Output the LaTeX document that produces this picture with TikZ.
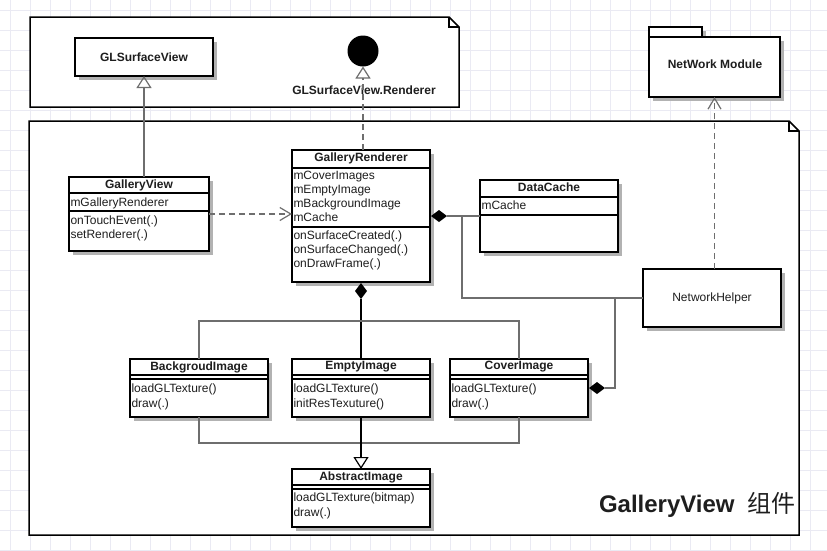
\documentclass[tikz,border=0pt]{standalone}
\usepackage{fontspec}
\setmainfont{Liberation Sans}
\newfontfamily\cjkfont{Noto Sans CJK SC}
\usetikzlibrary{arrows.meta,shadows,calc}
\definecolor{gridc}{RGB}{234,234,243}
\definecolor{linec}{RGB}{110,110,110}
\definecolor{shadowc}{RGB}{178,178,178}
\definecolor{txt}{RGB}{30,30,30}
\begin{document}
\begin{tikzpicture}[x=1pt,y=-1pt,
  every node/.style={inner sep=0pt, outer sep=0pt, text=txt, font=\fontsize{12}{14}\selectfont},
  box/.style={draw=black, line width=2pt, fill=white,
    drop shadow={shadow xshift=4pt, shadow yshift=-4pt, fill=shadowc, opacity=1}},
  pkg/.style={draw=black, line width=1.5pt, fill=white},
  sep/.style={draw=black, line width=2pt},
  thinsep/.style={draw=black, line width=1.5pt},
  title/.style={font=\bfseries\fontsize{12}{14}\selectfont},
  member/.style={anchor=west, text height=9pt, text depth=3pt},
  gridline/.style={draw=gridc, line width=0.7pt},
  assoc/.style={draw=linec, line width=1.5pt},
  diam/.style={fill=black},
  inh/.style={draw=linec, line width=1.5pt, -{Triangle[open, length=12pt, width=15pt, line width=1.2pt]}},
  realize/.style={draw=linec, line width=1.5pt, dash pattern=on 6pt off 4pt, -{Triangle[open, length=12pt, width=15pt, line width=1.2pt]}},
  dep/.style={draw=linec, line width=1.5pt, dash pattern=on 6pt off 4pt, -{Straight Barb[length=11pt, width=13pt, line width=1.2pt]}}
]
\useasboundingbox (0,0) rectangle (827,550);
\fill[white] (0,0) rectangle (827,550);
% background grid
\foreach \gx in {10,30,...,830} \draw[gridline] (\gx,0) -- (\gx,550);
\foreach \gy in {10,30,...,550} \draw[gridline] (0,\gy) -- (827,\gy);

% top package
\draw[pkg] (30,17) -- (449,17) -- (459,27) -- (459,107) -- (30,107) -- cycle;
\draw[pkg, fill=none] (449,17) |- (459,27);
% main package
\draw[pkg] (29,121) -- (789,121) -- (799,131) -- (799,535) -- (29,535) -- cycle;
\draw[pkg, fill=none] (789,121) |- (799,131);

% GLSurfaceView
\node[box, minimum width=138pt, minimum height=38pt, title] (glsv) at (144,57) {GLSurfaceView};
% Renderer interface
\node[circle, fill=black, minimum size=31pt] (rend) at (363,51) {};
\node[title] (rendl) at (364,90) {GLSurfaceView.Renderer};

% NetWork Module
\node[box, minimum width=53pt, minimum height=10pt] (nmtab) at (675.5,32) {};
\node[box, minimum width=131pt, minimum height=60pt] (nm) at (714.5,67) {};
\node[title] (nml) at (715,64) {NetWork Module};

% GalleryView
\node[box, minimum width=140pt, minimum height=74pt] (gv) at (139,214) {};
\draw[sep] (gv.west |- 0,193) -- (gv.east |- 0,193);
\draw[sep] (gv.west |- 0,211) -- (gv.east |- 0,211);
\node[title] (gvt) at (139,185) {GalleryView};
\node[member] (gva) at (70.5,203) {mGalleryRenderer};
\node[member] (gvm1) at (70.5,221) {onTouchEvent(.)};
\node[member] (gvm2) at (70.5,235) {setRenderer(.)};

% GalleryRenderer
\node[box, minimum width=138pt, minimum height=132pt] (gr) at (361,216) {};
\draw[sep] (gr.west |- 0,168) -- (gr.east |- 0,168);
\draw[sep] (gr.west |- 0,227) -- (gr.east |- 0,227);
\node[title] (grt) at (361,158.5) {GalleryRenderer};
\node[member] (gra1) at (293.5,176.5) {mCoverImages};
\node[member] (gra2) at (293.5,190.5) {mEmptyImage};
\node[member] (gra3) at (293.5,204) {mBackgroundImage};
\node[member] (gra4) at (293.5,218) {mCache};
\node[member] (grm1) at (293.5,236) {onSurfaceCreated(.)};
\node[member] (grm2) at (293.5,250) {onSurfaceChanged(.)};
\node[member] (grm3) at (293.5,264) {onDrawFrame(.)};

% DataCache
\node[box, minimum width=138pt, minimum height=72pt] (dc) at (549,216) {};
\draw[sep] (dc.west |- 0,197) -- (dc.east |- 0,197);
\draw[sep] (dc.west |- 0,215) -- (dc.east |- 0,215);
\node[title] (dct) at (549,187.5) {DataCache};
\node[member] (dca) at (481.5,206) {mCache};

% NetworkHelper
\node[box, minimum width=138pt, minimum height=58pt] (nh) at (712,298) {NetworkHelper};

% Image classes
\node[box, minimum width=138pt, minimum height=58pt] (bg) at (199,388) {};
\node[box, minimum width=138pt, minimum height=58pt] (ei) at (361,388) {};
\node[box, minimum width=138pt, minimum height=58pt] (ci) at (519,388) {};
\node[box, minimum width=138pt, minimum height=58pt] (ai) at (361,498) {};
\foreach \n in {bg,ei,ci} {
  \draw[thinsep] (\n.west |- 0,375) -- (\n.east |- 0,375);
  \draw[thinsep] (\n.west |- 0,379) -- (\n.east |- 0,379);
}
\draw[thinsep] (ai.west |- 0,485) -- (ai.east |- 0,485);
\draw[thinsep] (ai.west |- 0,489) -- (ai.east |- 0,489);

\node[title] (bgt) at (199,367) {BackgroudImage};
\node[member] (bgm1) at (131.5,389) {loadGLTexture()};
\node[member] (bgm2) at (131.5,404) {draw(.)};

\node[title] (eit) at (361,367) {EmptyImage};
\node[member] (eim1) at (293.5,389) {loadGLTexture()};
\node[member] (eim2) at (293.5,404) {initResTexuture()};

\node[title] (cit) at (519,367) {CoverImage};
\node[member] (cim1) at (451.5,389) {loadGLTexture()};
\node[member] (cim2) at (451.5,404) {draw(.)};

\node[title] (ait) at (361,477) {AbstractImage};
\node[member] (aim1) at (293.5,498) {loadGLTexture(bitmap)};
\node[member] (aim2) at (293.5,513) {draw(.)};

% package title
\node[anchor=base west, font=\bfseries\fontsize{24}{27}\selectfont] (pkgt) at (599,512)
  {GalleryView\hspace{13pt}{\cjkfont\mdseries 组件}};

% connectors
\draw[inh, line width=2pt] (gv.north -| glsv.south) -- (glsv.south);
\draw[realize] (gr.north -| rend.south) -- (rend.south);
\draw[dep] (gv.east) -- (gr.west |- gv.east);

% composition GalleryRenderer -> DataCache
\fill[diam] ($(gr.east)+(1,0)$) -- ++(8,-6) -- ++(8,6) -- ++(-8,6) -- cycle;
\draw[assoc] ($(gr.east)+(17,0)$) -- (dc.west);
\coordinate (j1) at (462,216);
\draw[assoc] (j1) |- (nh.west);
% composition CoverImage -> NetworkHelper
\coordinate (j2) at (615,298);
\fill[diam] ($(ci.east)+(1,0)$) -- ++(8,-6) -- ++(8,6) -- ++(-8,6) -- cycle;
\draw[assoc] (j2) |- ($(ci.east)+(17,0)$);
\draw[dep] (nh.north -| nm.south) -- (nm.south);

% composition GalleryRenderer -> images
\coordinate (jt) at (361,321);
\fill[diam] ($(gr.south)+(0,1)$) -- ++(6,8) -- ++(-6,8) -- ++(-6,-8) -- cycle;
\draw[assoc, draw=black] ($(gr.south)+(0,17)$) -- (ei.north);
\draw[assoc] (bg.north) |- (jt) -| (ci.north);
% generalisation images -> AbstractImage
\coordinate (jb) at (361,443);
\draw[assoc] (bg.south) |- (jb) -| (ci.south);
\draw[inh, draw=black] (ei.south) -- (ai.north);
\end{tikzpicture}
\end{document}
